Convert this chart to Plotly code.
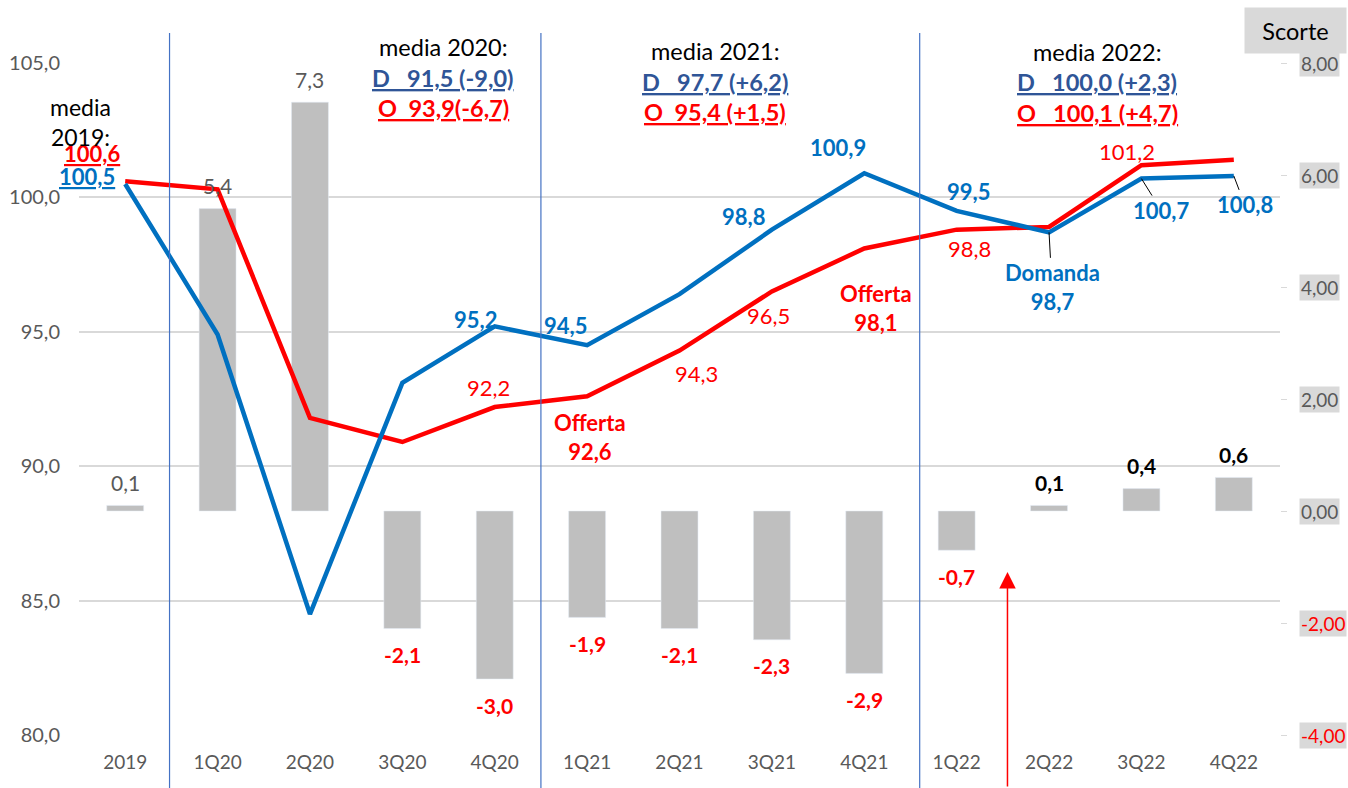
import plotly.graph_objects as go

# ---------------- data ----------------
categories = ["2019", "1Q20", "2Q20", "3Q20", "4Q20", "1Q21", "2Q21", "3Q21",
              "4Q21", "1Q22", "2Q22", "3Q22", "4Q22"]
domanda = [100.5, 94.9, 84.5, 93.1, 95.2, 94.5, 96.4, 98.8, 100.9, 99.5, 98.7, 100.7, 100.8]
offerta = [100.6, 100.3, 91.8, 90.9, 92.2, 92.6, 94.3, 96.5, 98.1, 98.8, 98.9, 101.2, 101.4]
scorte = [0.1, 5.4, 7.3, -2.1, -3.0, -1.9, -2.1, -2.3, -2.9, -0.7, 0.1, 0.4, 0.6]
left_ticks = [80, 85, 90, 95, 100, 105]
right_ticks = [-4, -2, 0, 2, 4, 6, 8]
media_years = ["media 2020:", "media 2021:", "media 2022:"]
media_d = ["D\u00a0\u00a0\u00a091,5 (-9,0)", "D\u00a0\u00a0\u00a097,7 (+6,2)", "D\u00a0\u00a0\u00a0100,0 (+2,3)"]
media_o = ["O\u00a0\u00a093,9(-6,7)", "O\u00a0\u00a095,4 (+1,5)", "O\u00a0\u00a0\u00a0100,1 (+4,7)"]
media_2019 = "media<br>2019:"
right_title = "Scorte"

# ---------------- style ----------------
FONT = "Lato"
BLUE = "#0070C0"
DBLUE = "#2F5597"
RED = "#FF0000"
GRAY_TXT = "#595959"
BAR = "#BFBFBF"
GRID = "#D9D9D9"

W, H = 1348, 788
L, R, T, B = 79, 1280, 63, 735


def px(xp):
    return (xp - L) / (R - L)


def py(yp):
    return (B - yp) / (B - T)


def fmt(v, d=1):
    return f"{v:.{d}f}".replace(".", ",")


fig = go.Figure()

fig.add_trace(go.Bar(x=categories, y=scorte, marker_color=BAR, width=0.4,
                     yaxis="y", hoverinfo="skip", showlegend=False))
fig.add_trace(go.Scatter(x=categories, y=offerta, mode="lines",
                         line=dict(color=RED, width=4.5), yaxis="y2",
                         showlegend=False, hoverinfo="skip"))
fig.add_trace(go.Scatter(x=categories, y=domanda, mode="lines",
                         line=dict(color=BLUE, width=4.5), yaxis="y2",
                         showlegend=False, hoverinfo="skip"))

ann = []

# ---- bar labels ----
for i, v in enumerate(scorte):
    if i < 3:
        color, weight, shift = GRAY_TXT, "normal", 23
    elif v < 0:
        color, weight, shift = RED, "bold", -26
    else:
        color, weight, shift = "#000000", "bold", 23
    ann.append(dict(x=i, y=v, xref="x", yref="y", text=fmt(v),
                    showarrow=False, yshift=shift, xanchor="center", yanchor="middle",
                    font=dict(family=FONT, size=21, color=color, weight=weight)))

# ---- line labels (index, dx, dy, prefix, bold, underline) ----
blue_labels = [
    (0, -38, 7, "", True, True),
    (4, -19, 7, "", True, False),
    (5, -22, 20, "", True, False),
    (7, -28, 13, "", True, False),
    (8, -26, 26, "", True, False),
    (9, 12, 19, "", True, False),
]
for i, dx, dy, pre, bold, und in blue_labels:
    ann.append(dict(x=i, y=domanda[i], xref="x", yref="y2",
                    text=pre + fmt(domanda[i]), showarrow=False,
                    xshift=dx, yshift=dy, xanchor="center", yanchor="middle",
                    font=dict(family=FONT, size=22, color=BLUE,
                              weight="bold" if bold else "normal",
                              lineposition="under" if und else "none")))

# blue labels with leader lines
blue_leader = [
    (10, 3, -55, "Domanda<br>"),
    (11, 20, -32, ""),
    (12, 11, -29, ""),
]
for i, dx, dy, pre in blue_leader:
    ann.append(dict(x=i, y=domanda[i], xref="x", yref="y2",
                    text=pre + fmt(domanda[i]), showarrow=True,
                    ax=dx, ay=-dy, arrowhead=0, arrowwidth=1,
                    arrowcolor="#000000", standoff=0,
                    font=dict(family=FONT, size=22, color=BLUE, weight="bold")))

red_labels = [
    (0, -33, 28, "", True, True),
    (4, -6, 20, "", False, False),
    (5, 3, -41, "Offerta<br>", True, False),
    (6, 17, -23, "", False, False),
    (7, -3, -24, "", False, False),
    (8, 12, -60, "Offerta<br>", True, False),
    (9, 13, -19, "", False, False),
    (11, -14, 14, "", False, False),
]
for i, dx, dy, pre, bold, und in red_labels:
    ann.append(dict(x=i, y=offerta[i], xref="x", yref="y2",
                    text=pre + fmt(offerta[i]), showarrow=False,
                    xshift=dx, yshift=dy, xanchor="center", yanchor="middle",
                    font=dict(family=FONT, size=22, color=RED,
                              weight="bold" if bold else "normal",
                              lineposition="under" if und else "none")))

# ---- media blocks ----
ann.append(dict(x=px(80), y=py(122), xref="paper", yref="paper", text=media_2019,
                showarrow=False, xanchor="center", yanchor="middle",
                font=dict(family=FONT, size=23, color="#000000")))
media_pos = [(443, 47, 78, 108), (715, 51, 82, 112), (1097, 52, 82, 113)]
for k, (cx, y1, y2, y3) in enumerate(media_pos):
    ann.append(dict(x=px(cx), y=py(y1), xref="paper", yref="paper", text=media_years[k],
                    showarrow=False, xanchor="center", yanchor="middle",
                    font=dict(family=FONT, size=23.5, color="#000000")))
    ann.append(dict(x=px(cx), y=py(y2), xref="paper", yref="paper", text=media_d[k],
                    showarrow=False, xanchor="center", yanchor="middle",
                    font=dict(family=FONT, size=23.5, color=DBLUE,
                              weight="bold", lineposition="under")))
    ann.append(dict(x=px(cx), y=py(y3), xref="paper", yref="paper", text=media_o[k],
                    showarrow=False, xanchor="center", yanchor="middle",
                    font=dict(family=FONT, size=23.5, color=RED,
                              weight="bold", lineposition="under")))

# ---- right axis labels with grey background ----
for v in right_ticks:
    ann.append(dict(x=px(1299), y=v, xref="paper", yref="y", text=fmt(v, 2),
                    xanchor="left", yanchor="middle", showarrow=False,
                    bgcolor=GRID, borderpad=1,
                    font=dict(family=FONT, size=19, color=RED if v < 0 else GRAY_TXT)))

# ---- Scorte title ----
ann.append(dict(x=px(1296), y=py(30.5), xref="paper", yref="paper", text=right_title,
                showarrow=False, xanchor="center", yanchor="middle",
                bgcolor=GRID, width=97, height=41, borderpad=2,
                font=dict(family=FONT, size=23.5, color="#000000")))

# ---- red arrow ----
ann.append(dict(x=9.55, y=py(572), xref="x", yref="paper", text="", showarrow=True,
                ax=0, ay=216, arrowhead=2, arrowsize=2.2, arrowwidth=1.5,
                arrowcolor=RED, standoff=0))

# ---- vertical separators ----
shapes = []
for xs in [0.48, 4.5, 8.6]:
    shapes.append(dict(type="line", xref="x", yref="paper", x0=xs, x1=xs,
                       y0=py(792), y1=py(33), line=dict(color="#4472C4", width=1.2)))

fig.update_layout(
    width=W, height=H, autosize=False,
    margin=dict(l=L, r=W - R, t=T, b=H - B, pad=0),
    paper_bgcolor="white", plot_bgcolor="white",
    separators=",.",
    font=dict(family=FONT, size=20, color=GRAY_TXT),
    bargap=0.6,
    xaxis=dict(type="category", categoryorder="array", categoryarray=categories,
               range=[-0.5, len(categories) - 0.5], showgrid=False, zeroline=False,
               showline=False, ticks="", ticklabelstandoff=14,
               tickfont=dict(family=FONT, size=19, color=GRAY_TXT), automargin=False),
    yaxis=dict(side="right", range=[-4, 8], tickvals=right_ticks, showticklabels=False,
               showgrid=False, zeroline=False, ticks="outside", ticklen=6,
               tickcolor=GRID, automargin=False),
    yaxis2=dict(side="left", overlaying="y", range=[80, 105], tickvals=left_ticks,
                tickformat=".1f", showgrid=True, gridcolor=GRID, gridwidth=1.5,
                zeroline=False, ticks="", ticklabelstandoff=18,
                tickfont=dict(family=FONT, size=20, color=GRAY_TXT), automargin=False),
    annotations=ann,
    shapes=shapes,
)

fig.write_html("out.html", config={"displayModeBar": False},
               post_script="document.body.style.margin='0';")
